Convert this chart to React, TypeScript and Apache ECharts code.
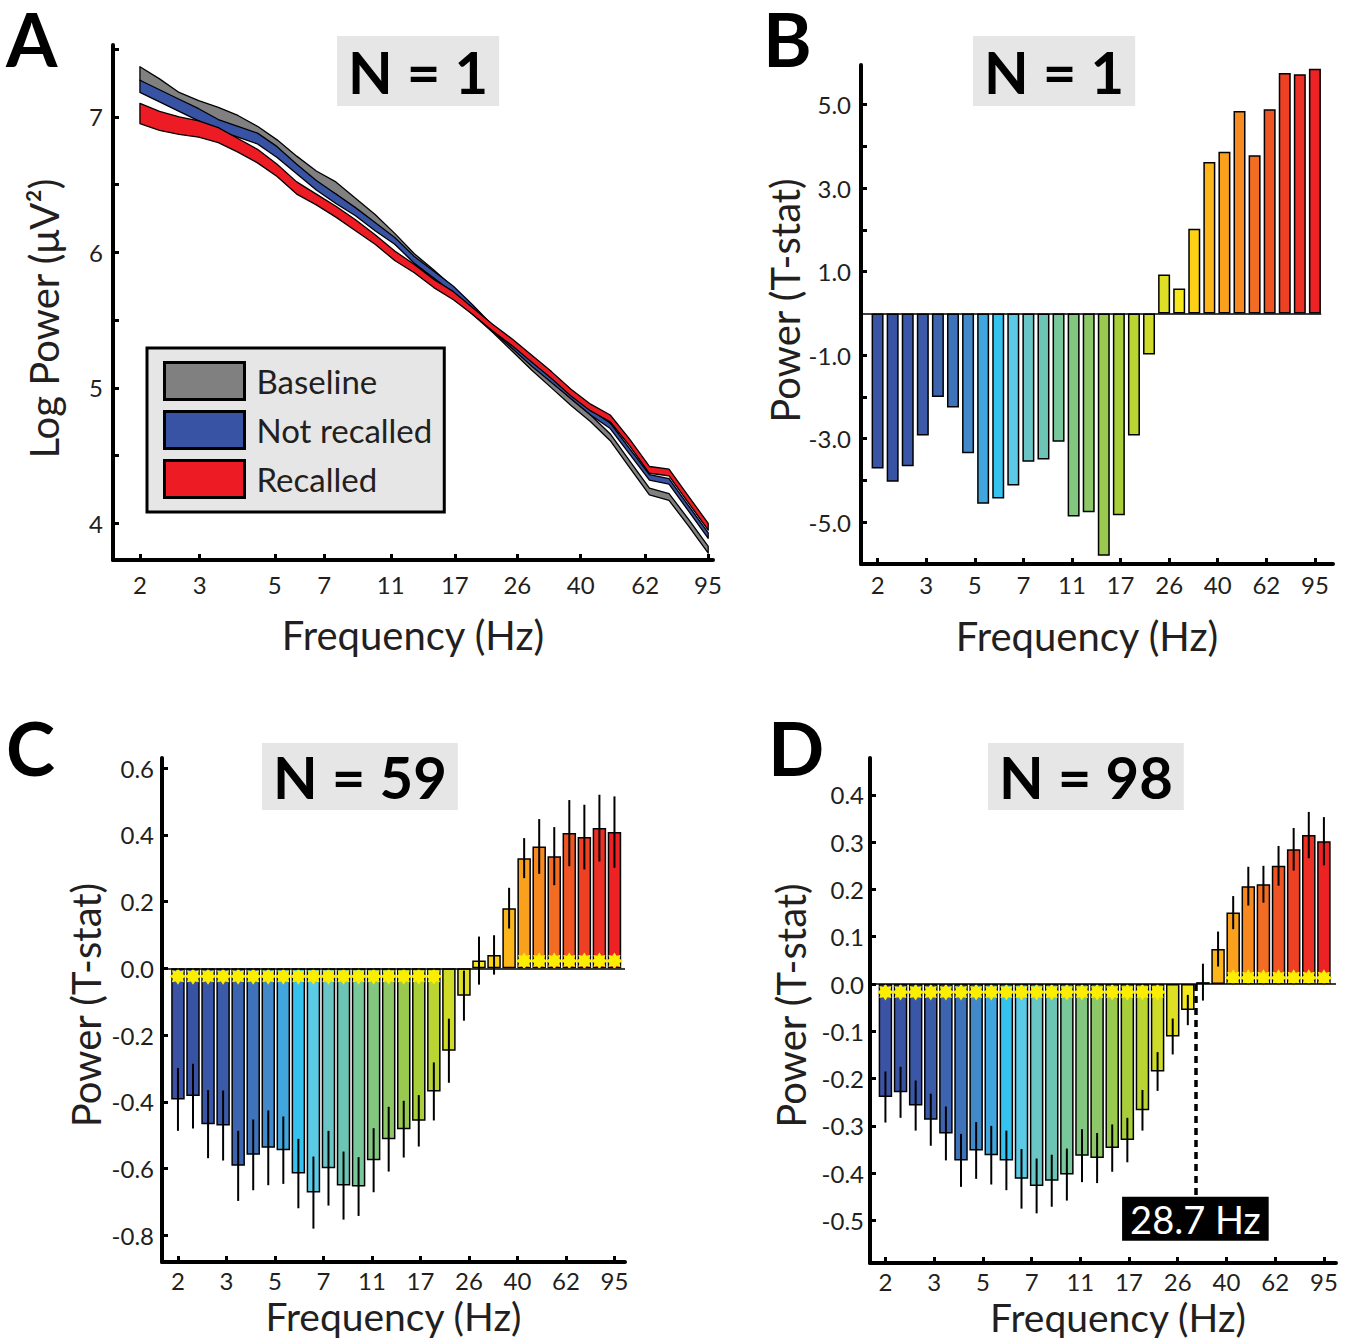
import React, { useEffect, useRef } from 'react';
import * as echarts from 'echarts';

// ---------- data ----------
const freqs = [2.0, 2.285, 2.61, 2.982, 3.407, 3.892, 4.447, 5.08, 5.804, 6.631, 7.575, 8.655, 9.888, 11.3, 12.91, 14.74, 16.84, 19.24, 21.98, 25.12, 28.7, 32.79, 37.45, 42.79, 48.89, 55.85, 63.81, 72.9, 83.29, 95.15];
const freqTicks = [2, 3, 5, 7, 11, 17, 26, 40, 62, 95];

// Panel A (log power bands)
const baselineUpper = [7.37, 7.28, 7.18, 7.12, 7.07, 7.01, 6.93, 6.83, 6.71, 6.60, 6.52, 6.40, 6.28, 6.14, 5.99, 5.87, 5.74, 5.60, 5.46, 5.32, 5.18, 5.05, 4.92, 4.80, 4.66, 4.46, 4.26, 4.22, 4.03, 3.83];
const baselineLower = [7.27, 7.18, 7.08, 7.02, 6.97, 6.91, 6.84, 6.74, 6.62, 6.51, 6.43, 6.32, 6.20, 6.07, 5.92, 5.80, 5.68, 5.54, 5.41, 5.27, 5.13, 5.00, 4.87, 4.75, 4.61, 4.41, 4.21, 4.17, 3.98, 3.78];
const notRecalledUpper = [7.27, 7.20, 7.13, 7.06, 6.98, 6.93, 6.88, 6.78, 6.65, 6.53, 6.43, 6.33, 6.22, 6.11, 5.97, 5.86, 5.75, 5.61, 5.46, 5.33, 5.20, 5.08, 4.96, 4.84, 4.74, 4.55, 4.36, 4.33, 4.13, 3.93];
const notRecalledLower = [7.18, 7.11, 7.04, 6.97, 6.90, 6.85, 6.80, 6.70, 6.58, 6.46, 6.36, 6.27, 6.16, 6.06, 5.92, 5.81, 5.70, 5.56, 5.42, 5.29, 5.16, 5.04, 4.92, 4.80, 4.70, 4.51, 4.32, 4.29, 4.09, 3.89];
const recalledUpper = [7.10, 7.04, 7.00, 6.97, 6.92, 6.84, 6.76, 6.65, 6.52, 6.43, 6.34, 6.24, 6.13, 6.01, 5.91, 5.80, 5.71, 5.59, 5.47, 5.36, 5.24, 5.12, 4.99, 4.88, 4.80, 4.62, 4.42, 4.40, 4.20, 4.00];
const recalledLower = [6.95, 6.90, 6.87, 6.85, 6.81, 6.74, 6.66, 6.56, 6.43, 6.35, 6.26, 6.16, 6.06, 5.94, 5.85, 5.74, 5.65, 5.54, 5.42, 5.31, 5.19, 5.07, 4.94, 4.83, 4.75, 4.57, 4.37, 4.35, 4.15, 3.95];

// Panel B (N = 1 t-stat)
const tstatN1 = [-3.71, -4.03, -3.66, -2.92, -2.0, -2.25, -3.35, -4.56, -4.43, -4.12, -3.55, -3.5, -3.07, -4.86, -4.76, -5.8, -4.83, -2.92, -0.98, 0.93, 0.6, 2.03, 3.63, 3.87, 4.85, 3.79, 4.89, 5.76, 5.73, 5.86];

// Panel C (N = 59)
const tstatN59 = [-0.393, -0.383, -0.467, -0.471, -0.592, -0.559, -0.538, -0.545, -0.615, -0.672, -0.599, -0.651, -0.654, -0.575, -0.512, -0.482, -0.457, -0.369, -0.247, -0.082, 0.023, 0.04, 0.18, 0.33, 0.365, 0.336, 0.405, 0.393, 0.42, 0.408];
const errN59 = [0.094, 0.097, 0.102, 0.105, 0.105, 0.106, 0.112, 0.101, 0.104, 0.108, 0.112, 0.102, 0.088, 0.096, 0.097, 0.085, 0.077, 0.087, 0.096, 0.075, 0.072, 0.059, 0.061, 0.06, 0.082, 0.087, 0.099, 0.097, 0.1, 0.107];
const sigNegN59 = [0, 1, 2, 3, 4, 5, 6, 7, 8, 9, 10, 11, 12, 13, 14, 15, 16, 17];
const sigPosN59 = [23, 24, 25, 26, 27, 28, 29];

// Panel D (N = 98)
const tstatN98 = [-0.239, -0.229, -0.257, -0.287, -0.316, -0.373, -0.352, -0.362, -0.373, -0.412, -0.427, -0.416, -0.403, -0.363, -0.368, -0.347, -0.33, -0.267, -0.185, -0.111, -0.055, 0.004, 0.074, 0.151, 0.207, 0.211, 0.25, 0.285, 0.315, 0.302];
const errN98 = [0.054, 0.054, 0.053, 0.055, 0.057, 0.056, 0.06, 0.062, 0.063, 0.063, 0.058, 0.055, 0.055, 0.056, 0.053, 0.05, 0.047, 0.043, 0.041, 0.038, 0.032, 0.039, 0.037, 0.035, 0.041, 0.039, 0.042, 0.045, 0.049, 0.051];
const sigNegN98 = [0, 1, 2, 3, 4, 5, 6, 7, 8, 9, 10, 11, 12, 13, 14, 15, 16, 17, 18];
const sigPosN98 = [23, 24, 25, 26, 27, 28, 29];
const crossoverIndex = 20.5;
const crossoverLabel = '28.7 Hz';

// ---------- styles ----------
const barColors = [
  '#3a53a4', '#3953a4', '#3a56a6', '#3b5ba9', '#3d65af', '#3e73b9', '#4289ca', '#42a6de', '#36c2ee', '#5bcae6',
  '#6ac6c6', '#6cc4b4', '#78c89b', '#82c67f', '#8dc767', '#99c94e', '#a8ce3a', '#bad531', '#cedb29', '#dfe025',
  '#f5e81c', '#fdd116', '#fcb61b', '#f9a11d', '#f68a20', '#f26d23', '#ef5524', '#ee4124', '#ed3025', '#ed2224',
];
const FONT = 'Lato, "Open Sans", sans-serif';
const TXT = '#231f20';
const STAR =
  'path://M0,-10 L2.49,-6 L7.07,-7.07 L6,-2.49 L10,0 L6,2.49 L7.07,7.07 L2.49,6 L0,10 L-2.49,6 L-7.07,7.07 L-6,2.49 L-10,0 L-6,-2.49 L-7.07,-7.07 L-2.49,-6 Z';

const axisLineStyle = { show: true, onZero: false, lineStyle: { color: '#000', width: 4 } };
const tickStyle = { color: '#000', width: 3 };
const labelBase = { fontSize: 24, fontFamily: FONT, color: TXT };
const nameStyle = { fontSize: 40, fontFamily: FONT, color: TXT };

const tickPos = freqTicks.map((_, k) => (k * (freqs.length - 1)) / (freqTicks.length - 1));

function indexXAxis(gridIndex: number, min: number, max: number, nameGap: number, margin: number, namePad: number[], nameSize = 40) {
  return {
    type: 'value',
    gridIndex,
    min,
    max,
    name: 'Frequency (Hz)',
    nameLocation: 'middle',
    nameGap,
    nameTextStyle: { ...nameStyle, fontSize: nameSize, padding: namePad },
    axisLine: axisLineStyle,
    axisTick: { show: true, inside: true, length: 6, customValues: tickPos, lineStyle: tickStyle },
    axisLabel: {
      ...labelBase,
      show: true,
      margin,
      customValues: tickPos,
      formatter: (v: number) => {
        const k = tickPos.findIndex((t) => Math.abs(t - v) < 1e-3);
        return k >= 0 ? String(freqTicks[k]) : '';
      },
    },
    splitLine: { show: false },
  };
}

function valueYAxis(
  gridIndex: number,
  min: number,
  max: number,
  ticks: number[],
  labels: number[],
  digits: number,
  name: string,
  nameGap: number,
  margin: number,
  namePad: number[]
) {
  return {
    type: 'value',
    gridIndex,
    min,
    max,
    name,
    nameLocation: 'middle',
    nameGap,
    nameTextStyle: { ...nameStyle, padding: namePad },
    axisLine: axisLineStyle,
    axisTick: { show: true, inside: true, length: 6, customValues: ticks, lineStyle: tickStyle },
    axisLabel: {
      ...labelBase,
      show: true,
      margin,
      customValues: labels,
      formatter: (v: number) => v.toFixed(digits),
    },
    splitLine: { show: false },
  };
}

function bandSeries(name: string, upper: number[], lower: number[], fill: string) {
  return {
    type: 'custom',
    name,
    xAxisIndex: 0,
    yAxisIndex: 0,
    silent: true,
    itemStyle: { color: fill },
    data: freqs.map((f, i) => [Math.log(f), lower[i], upper[i]]),
    encode: { x: 0, y: [1, 2] },
    renderItem: (params: any, api: any) => {
      if (params.dataIndex !== 0) return null;
      const pts: number[][] = [];
      for (let i = 0; i < freqs.length; i++) pts.push(api.coord([Math.log(freqs[i]), upper[i]]));
      for (let i = freqs.length - 1; i >= 0; i--) pts.push(api.coord([Math.log(freqs[i]), lower[i]]));
      return {
        type: 'polygon',
        shape: { points: pts },
        style: { fill, stroke: '#000', lineWidth: 1.3, lineJoin: 'round' },
      };
    },
  };
}

function barSeries(axis: number, values: number[], width: number, extra: any = {}) {
  return {
    type: 'bar',
    xAxisIndex: axis,
    yAxisIndex: axis,
    barWidth: width,
    silent: true,
    z: 2,
    data: values.map((v, i) => ({ value: [i, v], itemStyle: { color: barColors[i] } })),
    itemStyle: { borderColor: '#000', borderWidth: 1.5 },
    ...extra,
  };
}

function errorSeries(axis: number, values: number[], errs: number[]) {
  return {
    type: 'custom',
    xAxisIndex: axis,
    yAxisIndex: axis,
    silent: true,
    z: 3,
    data: values.map((v, i) => [i, v, errs[i]]),
    encode: { x: 0, y: 1 },
    renderItem: (_p: any, api: any) => {
      const x = api.value(0);
      const v = api.value(1);
      const e = api.value(2);
      const a = api.coord([x, v - e]);
      const b = api.coord([x, v + e]);
      return {
        type: 'line',
        shape: { x1: a[0], y1: a[1], x2: b[0], y2: b[1] },
        style: { stroke: '#000', lineWidth: 2 },
      };
    },
  };
}

function starSeries(axis: number, neg: number[], pos: number[], negOff: number, posOff: number) {
  return {
    type: 'scatter',
    xAxisIndex: axis,
    yAxisIndex: axis,
    silent: true,
    z: 4,
    symbol: STAR,
    symbolSize: 17,
    itemStyle: { color: '#fbee00', opacity: 1 },
    data: [...neg.map((i) => [i, -negOff]), ...pos.map((i) => [i, posOff])],
  };
}

const zeroLine = (extra: any[] = []) => ({
  silent: true,
  symbol: ['none', 'none'],
  label: { show: false },
  data: [{ yAxis: 0, lineStyle: { color: '#000', width: 1.5, type: 'solid' } }, ...extra],
});

function buildOption(): any {
  const letter = (text: string, left: number, top: number) => ({
    text,
    left,
    top,
    padding: 0,
    textStyle: { fontSize: 74, fontWeight: 'bold', fontFamily: FONT, color: '#000', lineHeight: 60 },
  });
  const nBox = (text: string, left: number, top: number, pv: number) => ({
    text,
    left,
    top,
    padding: [pv, 11, pv, 11],
    backgroundColor: '#e6e6e6',
    textStyle: { fontSize: 58, fontWeight: 'bold', fontFamily: FONT, color: '#000', lineHeight: 60 },
  });

  return {
    animation: false,
    backgroundColor: '#fff',
    title: [
      letter('A', 6, 8),
      letter('B', 763, 8),
      letter('C', 6, 717),
      letter('D', 768, 717),
      nBox('N = 1', 337, 36, 5),
      nBox('N = 1', 973, 36, 5),
      nBox('N = 59', 262, 743, 3.5),
      nBox('N = 98', 988, 743, 3.5),
    ],
    legend: {
      left: 147,
      top: 348,
      orient: 'vertical',
      icon: 'rect',
      itemWidth: 80,
      itemHeight: 37,
      itemGap: 9,
      selectedMode: false,
      backgroundColor: '#e6e6e6',
      borderColor: '#000',
      borderWidth: 3,
      borderRadius: 0,
      padding: [13, 12, 13, 16],
      itemStyle: { borderColor: '#000', borderWidth: 3 },
      textStyle: { fontSize: 33, fontFamily: FONT, color: TXT, padding: [0, 0, 0, 7] },
      data: [
        { name: 'Baseline', itemStyle: { color: '#808080' } },
        { name: 'Not recalled', itemStyle: { color: '#3953a4' } },
        { name: 'Recalled', itemStyle: { color: '#ed1c24' } },
      ],
    },
    grid: [
      { left: 113, top: 45, width: 600, height: 515, containLabel: false, outerBoundsMode: 'none' },
      { left: 861, top: 65, width: 472, height: 499, containLabel: false, outerBoundsMode: 'none' },
      { left: 162, top: 758, width: 463, height: 504, containLabel: false, outerBoundsMode: 'none' },
      { left: 870, top: 758, width: 466, height: 505, containLabel: false, outerBoundsMode: 'none' },
    ],
    xAxis: [
      {
        type: 'value',
        gridIndex: 0,
        min: 0.51,
        max: 4.588,
        name: 'Frequency (Hz)',
        nameLocation: 'middle',
        nameGap: 55,
        nameTextStyle: nameStyle,
        axisLine: axisLineStyle,
        axisTick: { show: true, inside: true, length: 6, customValues: freqTicks.map((f) => Math.log(f)), lineStyle: tickStyle },
        axisLabel: {
          ...labelBase,
          show: true,
          margin: 12,
          customValues: freqTicks.map((f) => Math.log(f)),
          formatter: (v: number) => String(Math.round(Math.exp(v))),
        },
        splitLine: { show: false },
      },
      indexXAxis(1, -1.1, 30.2, 52, 8, [0, 20, 0, 0]),
      indexXAxis(2, -1.06, 29.7, 34, 6, [0, 0, 0, 0], 39),
      indexXAxis(3, -1.02, 29.8, 34, 6, [0, 0, 0, 30], 39),
    ],
    yAxis: [
      valueYAxis(0, 3.73, 7.53, [4, 4.5, 5, 5.5, 6, 6.5, 7, 7.5], [4, 5, 6, 7], 0, 'Log Power (μV²)', 49, 10, [0, 32, 0, 0]),
      valueYAxis(1, -6, 5.95, [-5, -4, -3, -2, -1, 1, 2, 3, 4, 5], [-5, -3, -1, 1, 3, 5], 1, 'Power (T-stat)', 53, 10, [0, 0, 0, 28]),
      valueYAxis(2, -0.88, 0.63, [-0.8, -0.6, -0.4, -0.2, 0, 0.2, 0.4, 0.6], [-0.8, -0.6, -0.4, -0.2, 0, 0.2, 0.4, 0.6], 1, 'Power (T-stat)', 56, 8, [0, 0, 0, 10]),
      valueYAxis(3, -0.59, 0.478, [-0.5, -0.4, -0.3, -0.2, -0.1, 0, 0.1, 0.2, 0.3, 0.4], [-0.5, -0.4, -0.3, -0.2, -0.1, 0, 0.1, 0.2, 0.3, 0.4], 1, 'Power (T-stat)', 59, 6, [0, 0, 0, 10]),
    ],
    series: [
      bandSeries('Baseline', baselineUpper, baselineLower, '#808080'),
      bandSeries('Not recalled', notRecalledUpper, notRecalledLower, '#3953a4'),
      bandSeries('Recalled', recalledUpper, recalledLower, '#ed1c24'),

      barSeries(1, tstatN1, 12, {
        markLine: {
          silent: true,
          symbol: ['none', 'none'],
          label: { show: false },
          lineStyle: { color: '#000', width: 1.5, type: 'solid' },
          data: [[{ coord: [-1.1, 0] }, { coord: [29.42, 0] }]],
        },
      }),

      barSeries(2, tstatN59, 13.5, { markLine: zeroLine() }),
      errorSeries(2, tstatN59, errN59),
      starSeries(2, sigNegN59, sigPosN59, 0.024, 0.022),

      barSeries(3, tstatN98, 13.5, {
        markLine: zeroLine([
          [
            {
              coord: [crossoverIndex, 0],
              lineStyle: { color: '#000', width: 3.5, type: [7, 5] },
              label: {
                show: true,
                position: 'end',
                distance: 0,
                formatter: crossoverLabel,
                backgroundColor: '#000',
                color: '#fff',
                fontSize: 38,
                fontFamily: FONT,
                padding: [2, 8, 2, 8],
                lineHeight: 40,
              },
            },
            { coord: [crossoverIndex, -0.45] },
          ],
        ]),
      }),
      errorSeries(3, tstatN98, errN98),
      starSeries(3, sigNegN98, sigPosN98, 0.017, 0.013),
    ],
  };
}

export default function App() {
  const ref = useRef<HTMLDivElement>(null);
  useEffect(() => {
    document.body.style.margin = '0';
    const chart = echarts.init(ref.current as HTMLDivElement, null, { renderer: 'svg' });
    chart.setOption(buildOption());
    return () => chart.dispose();
  }, []);
  return <div ref={ref} style={{ width: 1355, height: 1338 }} />;
}
